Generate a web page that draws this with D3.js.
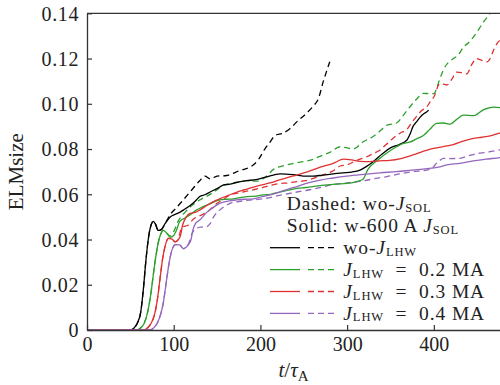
<!DOCTYPE html>
<html><head><meta charset="utf-8">
<script src="https://cdn.jsdelivr.net/npm/d3@7"></script>
<style>
html,body{margin:0;padding:0;background:#fff;}
svg{display:block;font-family:"Liberation Serif","Times New Roman",serif;}
text{white-space:pre;}
</style></head>
<body><svg id="c" width="500" height="385"></svg>
<script>
const xTicks = [0, 100, 200, 300, 400];
const yTicks = [0, 0.02, 0.04, 0.06, 0.08, 0.10, 0.12, 0.14];
const yTickLabels = ["0", "0.02", "0.04", "0.06", "0.08", "0.10", "0.12", "0.14"];

const blackSolid = [[0,0],[50,0],[54,0.0008],[58,0.003],[62,0.008],[65,0.018],[68,0.031],[71,0.041],[74,0.0465],[76.5,0.048],[79,0.0468],[82,0.044],[86,0.0445],[90,0.047],[96,0.050],[101,0.051],[107,0.052],[113,0.0535],[119,0.055],[125,0.057],[130,0.059],[136,0.0598],[142,0.061],[150,0.0625],[157,0.064],[165,0.0645],[172,0.0652],[184,0.066],[195,0.0665],[205,0.0675],[215,0.0685],[223,0.069],[232,0.0688],[242,0.0685],[252,0.068],[261,0.068],[272,0.0685],[284,0.069],[295,0.0695],[305,0.0698],[315,0.0707],[322,0.0722],[330,0.0744],[341,0.078],[350,0.0805],[360,0.082],[369,0.084],[373,0.087],[376,0.090],[380,0.092],[384,0.094],[388,0.0955],[392,0.0965],[394,0.0972]];
const blackDashed = [[0,0],[50,0],[54,0.0008],[58,0.003],[62,0.008],[65,0.018],[68,0.031],[71,0.041],[74,0.0465],[76.5,0.048],[79,0.0468],[82,0.044],[86,0.0445],[90,0.047],[96,0.051],[103,0.054],[111,0.0575],[121,0.062],[130,0.066],[136,0.068],[142,0.0668],[150,0.068],[161,0.0683],[170,0.0695],[176,0.0705],[185,0.0715],[192,0.073],[198,0.0755],[205,0.080],[211,0.083],[217,0.086],[226,0.087],[234,0.089],[242,0.092],[253,0.0958],[261,0.099],[267,0.1024],[272.6,0.110],[276,0.114],[280,0.1186]];
const greenSolid = [[0,0],[58,0],[62,0.001],[66,0.003],[70,0.008],[74,0.017],[77,0.026],[80,0.034],[83,0.040],[86,0.0432],[88,0.044],[92,0.0428],[96,0.041],[100,0.0418],[103,0.044],[107,0.048],[113,0.0495],[119,0.051],[126,0.053],[134,0.0545],[143,0.056],[153,0.0575],[161,0.0578],[169,0.058],[184,0.059],[195,0.0592],[203,0.0597],[212,0.060],[222,0.061],[232,0.0618],[242,0.0626],[252,0.063],[262,0.0635],[273,0.064],[286,0.0645],[300,0.0648],[310,0.0655],[318,0.0665],[324,0.071],[330,0.0735],[335,0.075],[345,0.078],[357,0.081],[365,0.0825],[372,0.083],[380,0.0845],[388,0.086],[396,0.089],[403,0.0913],[411,0.0915],[419,0.091],[426,0.093],[434,0.095],[446,0.0948],[457,0.0973],[469,0.0985],[476,0.0983],[480,0.098]];
const greenDashed = [[0,0],[58,0],[62,0.001],[66,0.003],[70,0.008],[74,0.017],[77,0.026],[80,0.034],[83,0.040],[86,0.0432],[88,0.044],[92,0.0428],[96,0.0415],[100,0.0435],[105,0.048],[113,0.052],[121,0.055],[130,0.0575],[140,0.0595],[150,0.062],[157,0.064],[170,0.065],[184,0.066],[196,0.0658],[207,0.068],[215,0.071],[226,0.0725],[238,0.0737],[250,0.0745],[261,0.0755],[270,0.077],[280,0.0785],[292,0.081],[300,0.0805],[307,0.080],[319,0.0833],[330,0.0855],[338,0.088],[346,0.0906],[357,0.0915],[365,0.095],[372.5,0.0987],[380,0.102],[388,0.1046],[395,0.1045],[400,0.1045],[406,0.110],[411,0.115],[422.5,0.120],[428,0.1215],[434,0.125],[440,0.127],[446,0.1297],[452,0.133],[457,0.136],[465,0.140],[470,0.143]];
const redSolid = [[0,0],[66,0],[70,0.001],[74,0.003],[78,0.007],[81,0.013],[84,0.022],[87,0.031],[90,0.037],[94,0.0405],[98,0.0402],[101.5,0.039],[105,0.0398],[108,0.042],[110,0.046],[113,0.049],[119,0.0516],[125,0.052],[130,0.053],[136,0.0545],[142,0.056],[153,0.058],[163,0.0595],[173,0.061],[182,0.062],[192,0.0632],[200,0.064],[211,0.065],[223,0.0665],[232,0.0675],[242,0.0685],[255,0.070],[269,0.072],[284,0.0737],[296,0.0755],[305,0.0752],[315,0.0745],[326,0.0744],[337,0.0748],[349,0.075],[362,0.0758],[376,0.0774],[386,0.0787],[396,0.080],[410,0.081],[422.5,0.082],[434,0.0835],[445.6,0.0847],[455,0.0852],[465,0.0858],[476,0.087],[480,0.0872]];
const redDashed = [[0,0],[66,0],[70,0.001],[74,0.003],[78,0.007],[81,0.013],[84,0.022],[87,0.031],[90,0.037],[94,0.0405],[98,0.0402],[101.5,0.039],[105,0.040],[108,0.044],[111,0.0457],[116,0.0462],[122.6,0.049],[130,0.0505],[138,0.052],[150,0.056],[158,0.058],[165,0.0598],[173,0.0605],[180,0.061],[192,0.062],[203,0.063],[213,0.064],[222.6,0.0648],[232,0.065],[242,0.0656],[252,0.066],[261,0.067],[272,0.0685],[284,0.0704],[292,0.0725],[300,0.073],[311,0.075],[322.6,0.0766],[330,0.078],[338,0.0796],[345,0.082],[353,0.0848],[361,0.087],[369,0.0887],[375,0.092],[380,0.0943],[386,0.097],[392,0.0987],[396,0.101],[400,0.103],[407,0.109],[415,0.1083],[421,0.111],[426,0.114],[432,0.1138],[438,0.1132],[444,0.1175],[449,0.120],[453,0.1195],[457,0.119],[461,0.1185],[465,0.120],[469,0.1238],[473,0.1267],[476,0.128],[480,0.129]];
const purpleSolid = [[0,0],[73,0],[77,0.001],[81,0.003],[85,0.007],[88,0.012],[91,0.020],[94,0.028],[97,0.034],[99.5,0.0368],[102,0.0377],[107,0.0376],[111,0.036],[114,0.0365],[117,0.0377],[120,0.040],[122,0.044],[125,0.047],[130,0.0486],[138,0.052],[145,0.054],[153,0.056],[163,0.057],[172.6,0.0575],[182,0.0578],[192,0.058],[202,0.059],[211,0.0597],[222,0.061],[232,0.0623],[242,0.0634],[255,0.065],[269,0.0663],[284,0.0672],[299.5,0.068],[319,0.0688],[338,0.0695],[357,0.070],[375,0.0707],[392,0.0713],[405,0.072],[415,0.073],[430,0.0737],[445.6,0.0748],[460,0.0755],[476,0.0762],[480,0.0764]];
const purpleDashed = [[0,0],[73,0],[77,0.001],[81,0.003],[85,0.007],[88,0.012],[91,0.020],[94,0.028],[97,0.034],[99.5,0.0368],[102,0.0377],[107,0.0376],[111,0.036],[114,0.0365],[117,0.038],[121,0.0425],[126.5,0.045],[132,0.0455],[138,0.0457],[142,0.047],[146,0.050],[153,0.053],[160,0.055],[165,0.056],[175,0.0568],[185,0.0573],[203,0.058],[222,0.0595],[242,0.061],[257,0.062],[270,0.063],[280,0.064],[300,0.065],[319,0.066],[333,0.067],[346,0.0678],[360,0.069],[375,0.070],[392,0.0707],[398,0.0715],[403,0.0737],[407,0.075],[411,0.0759],[420,0.0758],[430,0.0759],[440,0.077],[449.5,0.078],[460,0.0785],[476,0.0796],[480,0.0798]];

const seriesNames = ["wo-J_LHW", "J_LHW = 0.2 MA", "J_LHW = 0.3 MA", "J_LHW = 0.4 MA"];
const seriesColors = ["#000000", "#2ca02c", "#e03131", "#9467bd"];
const solidData = [blackSolid, greenSolid, redSolid, purpleSolid];
const dashedData = [blackDashed, greenDashed, redDashed, purpleDashed];

const svg = d3.select("#c");
const L = 87, R = 503.2, T = 13.3, B = 330;
const x = d3.scaleLinear().domain([0, 480]).range([L, R]);
const y = d3.scaleLinear().domain([0, 0.14]).range([B, T]);

svg.append("defs").append("clipPath").attr("id", "clip")
  .append("rect").attr("x", L).attr("y", T).attr("width", R - L).attr("height", B - T);

const line = d3.line().x(d => x(d[0])).y(d => y(d[1])).curve(d3.curveMonotoneX);
const g = svg.append("g").attr("clip-path", "url(#clip)");
dashedData.forEach((d, i) => {
  g.append("path").attr("d", line(d)).attr("fill", "none")
    .attr("stroke", seriesColors[i]).attr("stroke-width", 1.3)
    .attr("stroke-dasharray", "6,4");
});
solidData.forEach((d, i) => {
  g.append("path").attr("d", line(d)).attr("fill", "none")
    .attr("stroke", seriesColors[i]).attr("stroke-width", 1.3);
});

// axes
const xAxis = d3.axisBottom(x).tickValues(xTicks).tickSize(-5).tickSizeOuter(0).tickPadding(7);
const yAxis = d3.axisLeft(y).tickValues(yTicks).tickFormat((d, i) => yTickLabels[i]).tickSize(-5).tickSizeOuter(0).tickPadding(8);
const gx = svg.append("g").attr("transform", `translate(0,${B})`).call(xAxis);
const gy = svg.append("g").attr("transform", `translate(${L},0)`).call(yAxis);
[gx, gy].forEach(a => {
  a.attr("font-family", "Liberation Serif");
  a.selectAll("text").attr("font-size", 20).attr("font-family", "Liberation Serif").attr("fill", "#222");
  a.selectAll("line").attr("stroke", "#333").attr("stroke-width", 1.2);
  a.select(".domain").attr("stroke", "#333").attr("stroke-width", 1.3);
});
gy.selectAll("text").attr("dy", "0.34em").attr("letter-spacing", 0.6);
svg.append("line").attr("x1", L).attr("x2", R).attr("y1", T).attr("y2", T)
  .attr("stroke", "#333").attr("stroke-width", 1.3);

// axis titles
const xt = svg.append("text").attr("x", (L + 500) / 2).attr("y", 377)
  .attr("text-anchor", "middle").attr("font-size", 21).attr("fill", "#222");
xt.append("tspan").attr("font-style", "italic").text("t");
xt.append("tspan").text("/");
xt.append("tspan").attr("font-style", "italic").text("τ");
xt.append("tspan").attr("font-size", 15).attr("dy", 4).text("A");

svg.append("text").attr("transform", `translate(23,${(T + B) / 2}) rotate(-90)`)
  .attr("text-anchor", "middle").attr("font-size", 21).attr("fill", "#222").text("ELMsize");

// legend
const fs = 19.5, sub = 12.5, subDy = 1.5, ls = 0.9, rowStep = 21.9;
function addJ(t, subTxt) {
  t.append("tspan").attr("font-style", "italic").text("J");
  t.append("tspan").attr("font-size", sub).attr("dy", subDy).text(subTxt);
}
const base0 = 210.4;
const t1 = svg.append("text").attr("x", 286.7).attr("y", base0).attr("font-size", fs)
  .attr("letter-spacing", ls).attr("fill", "#222");
t1.append("tspan").text("Dashed: wo-");
addJ(t1, "SOL");
const t2 = svg.append("text").attr("x", 286.7).attr("y", base0 + rowStep).attr("font-size", fs)
  .attr("letter-spacing", ls).attr("fill", "#222");
t2.append("tspan").text("Solid: w-600 A ");
addJ(t2, "SOL");

seriesNames.forEach((name, i) => {
  const base = base0 + rowStep * (i + 2);
  const yy = base - 6.5;
  svg.append("line").attr("x1", 270).attr("x2", 300).attr("y1", yy).attr("y2", yy)
    .attr("stroke", seriesColors[i]).attr("stroke-width", 1.3);
  svg.append("line").attr("x1", 308).attr("x2", 336).attr("y1", yy).attr("y2", yy)
    .attr("stroke", seriesColors[i]).attr("stroke-width", 1.3).attr("stroke-dasharray", "6,4");
  const t = svg.append("text").attr("x", 343.3).attr("y", base).attr("font-size", fs)
    .attr("letter-spacing", ls).attr("fill", "#222");
  const parts = name.split("J_");
  if (parts[0]) t.append("tspan").text(parts[0]);
  const rest = parts[1];
  const sp = rest.indexOf(" ");
  addJ(t, sp < 0 ? rest : rest.slice(0, sp));
  if (sp >= 0) t.append("tspan").attr("dy", -subDy).text(rest.slice(sp).replace(" = ", "  =  "));
});
</script></body></html>
